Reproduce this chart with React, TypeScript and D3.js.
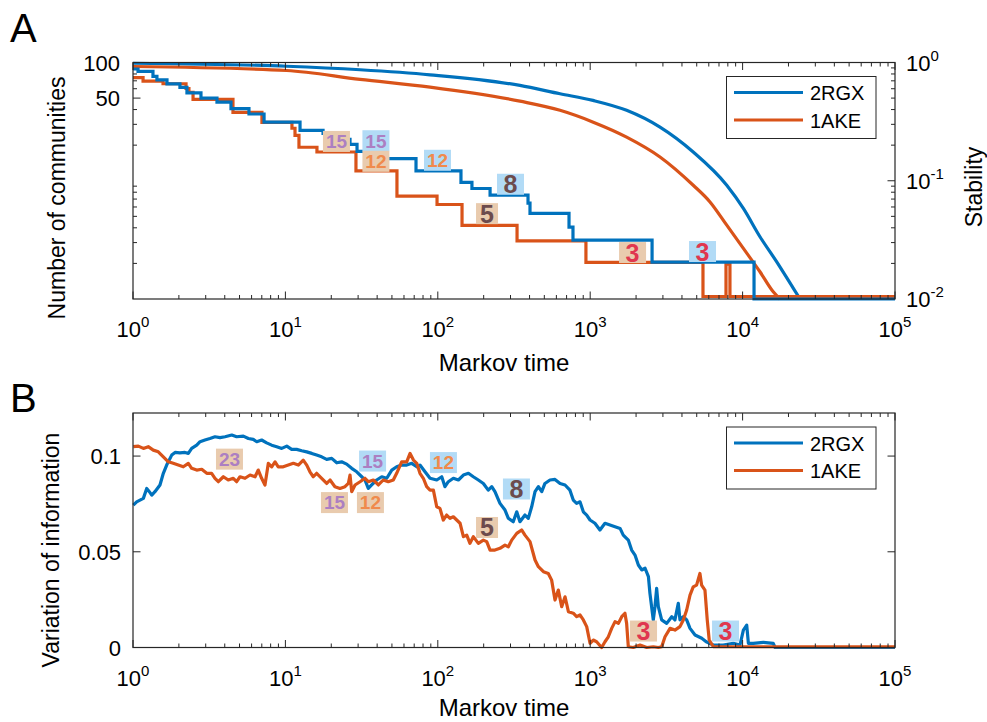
import React, { useEffect, useRef } from "react";
import * as d3 from "d3";

const W = 987, H = 722;
const BLUE = "#0072BD";
const ORANGE = "#D95319";
const AX = "#262626";
const FONT = "'Liberation Sans', Arial, Helvetica, sans-serif";
const LW = 3.2;

const seriesNames = ["2RGX", "1AKE"];
const xTickExps = [0, 1, 2, 3, 4, 5];
const stabTickExps = [0, -1, -2];
const commTickLabels = [100, 50];
const viTicks = [0, 0.05, 0.1];
const viTickLabels = ["0", "0.05", "0.1"];

// Number of communities (step), [log10 Markov time, count]
const comm2RGX = [
  [0, 88.1], [0.033, 84], [0.131, 76.2], [0.157, 71.2], [0.223, 65.9], [0.308, 61.5], [0.354, 55.3],
  [0.446, 50], [0.551, 46.3], [0.643, 40.7], [0.761, 36.7], [0.86, 31.3], [1.096, 26.7], [1.247, 25.2],
  [1.273, 22.4], [1.424, 20.3], [1.47, 17.7], [1.667, 15.4], [1.857, 12.1], [2.152, 9.7], [2.224, 8.6],
  [2.343, 7.55], [2.592, 6.46], [2.605, 5.29], [2.861, 4.05], [2.887, 3.15], [3.406, 2.05], [4.075, 1], [5, 1],
];
const comm1AKE = [
  [0, 74.6], [0.066, 69.5], [0.197, 66.1], [0.348, 60.3], [0.367, 55.8], [0.394, 48.7], [0.656, 37.9],
  [0.846, 31.2], [1.043, 27.8], [1.063, 24.2], [1.089, 19.2], [1.207, 17.5], [1.463, 12.1], [1.732, 7.4],
  [1.995, 6.3], [2.159, 4.2], [2.52, 3.1], [2.972, 2.04], [3.74, 1.05], [3.891, 1.97], [3.917, 1.05], [5, 1.05],
];

// Stability, [log10 Markov time, stability]
const stab2RGX = [
  [0, 0.986], [1.0085, 0.93], [1.49, 0.868], [1.949, 0.787], [2.539, 0.64], [2.802, 0.544], [3.018, 0.478],
  [3.239, 0.394], [3.458, 0.284], [3.676, 0.175], [3.896, 0.0916], [4.005, 0.0583], [4.114, 0.0336],
  [4.224, 0.0206], [4.333, 0.0123], [4.377, 0.0099],
];
const stab1AKE = [
  [0, 0.925], [1.0085, 0.856], [1.49, 0.72], [1.949, 0.619], [2.539, 0.471], [2.802, 0.394], [3.02, 0.313],
  [3.239, 0.234], [3.458, 0.159], [3.676, 0.0916], [3.786, 0.0662], [3.896, 0.0421], [4.005, 0.0268],
  [4.114, 0.017], [4.201, 0.0115], [4.245, 0.0099],
];

// Variation of information, [log10 Markov time, VI]
const vi2RGX = [
  [0.002,0.0744],[0.024,0.0761],[0.046,0.077],[0.068,0.0779],[0.09,0.0831],[0.107,0.0814],[0.123,0.0796],[0.144,0.0814],
  [0.177,0.0849],[0.199,0.091],[0.221,0.0953],[0.254,0.1005],[0.276,0.1019],[0.308,0.1017],[0.341,0.1019],[0.363,0.1014],
  [0.385,0.104],[0.418,0.1057],[0.44,0.1075],[0.472,0.1084],[0.505,0.1092],[0.538,0.1101],[0.571,0.1096],[0.604,0.1101],
  [0.648,0.111],[0.68,0.1101],[0.724,0.1104],[0.757,0.1092],[0.789,0.1087],[0.812,0.1075],[0.844,0.1084],[0.877,0.1069],
  [0.91,0.1057],[0.943,0.1049],[0.976,0.104],[1.009,0.1052],[1.041,0.1035],[1.074,0.1035],[1.107,0.1028],[1.14,0.1022],
  [1.173,0.1014],[1.205,0.1005],[1.238,0.0996],[1.271,0.0983],[1.304,0.0988],[1.337,0.0965],[1.369,0.097],[1.402,0.0958],
  [1.435,0.0936],[1.468,0.0918],[1.501,0.0892],[1.522,0.0875],[1.544,0.0831],[1.566,0.0849],[1.599,0.0875],[1.632,0.0892],
  [1.665,0.0884],[1.698,0.0927],[1.73,0.0944],[1.763,0.0953],[1.796,0.0953],[1.829,0.0962],[1.862,0.0944],[1.883,0.0953],
  [1.916,0.0918],[1.949,0.0884],[1.993,0.0875],[2.026,0.0892],[2.047,0.084],[2.069,0.0866],[2.102,0.0884],[2.135,0.0875],
  [2.168,0.0901],[2.201,0.091],[2.233,0.0892],[2.266,0.0875],[2.299,0.0857],[2.331,0.0822],[2.354,0.084],[2.375,0.0814],
  [2.408,0.0753],[2.441,0.0718],[2.463,0.0675],[2.495,0.0657],[2.518,0.0709],[2.539,0.0657],[2.572,0.0692],[2.594,0.0675],
  [2.616,0.0735],[2.638,0.0814],[2.66,0.084],[2.682,0.0814],[2.703,0.0857],[2.736,0.0875],[2.769,0.0878],[2.802,0.0857],
  [2.835,0.0849],[2.867,0.0822],[2.889,0.077],[2.911,0.0753],[2.933,0.0761],[2.955,0.0709],[2.977,0.0692],[2.999,0.0666],
  [3.031,0.0649],[3.064,0.0614],[3.097,0.0649],[3.13,0.064],[3.163,0.0631],[3.196,0.0622],[3.217,0.0587],[3.25,0.0561],
  [3.272,0.0509],[3.294,0.0483],[3.316,0.0431],[3.338,0.0405],[3.36,0.0414],[3.382,0.037],[3.392,0.0283],[3.403,0.0213],
  [3.414,0.0144],[3.425,0.0213],[3.436,0.0309],[3.447,0.0213],[3.469,0.0144],[3.502,0.0126],[3.535,0.0161],[3.556,0.0144],
  [3.578,0.0231],[3.589,0.0144],[3.611,0.0161],[3.633,0.0144],[3.655,0.01],[3.688,0.0065],[3.732,0.0048],[3.761,0.003],
  [3.808,0.0013],[3.873,0.0013],[3.939,0.0022],[3.983,0.0013],[4.005,0.0091],[4.027,0.0117],[4.038,0.0022],[4.07,0.0022],
  [4.136,0.0027],[4.201,0.0022],[4.213,0],[5,0],
];
const vi1AKE = [
  [0.002,0.1049],[0.035,0.1052],[0.068,0.104],[0.1,0.1049],[0.133,0.1031],[0.166,0.1022],[0.199,0.0996],[0.232,0.097],
  [0.264,0.0962],[0.297,0.0953],[0.33,0.0944],[0.363,0.0962],[0.385,0.0936],[0.418,0.0927],[0.451,0.0931],[0.484,0.091],
  [0.516,0.091],[0.538,0.0884],[0.56,0.0866],[0.593,0.0892],[0.625,0.0875],[0.658,0.0884],[0.68,0.0866],[0.702,0.0892],
  [0.735,0.0884],[0.768,0.0901],[0.801,0.0892],[0.822,0.0927],[0.844,0.0884],[0.866,0.0849],[0.888,0.0962],[0.91,0.0944],
  [0.932,0.097],[0.953,0.0944],[0.986,0.0944],[1.019,0.0953],[1.052,0.0962],[1.085,0.0953],[1.117,0.0979],[1.14,0.0953],
  [1.161,0.0918],[1.183,0.0892],[1.205,0.091],[1.238,0.0884],[1.271,0.0857],[1.293,0.0875],[1.325,0.084],[1.358,0.0831],
  [1.391,0.084],[1.413,0.0857],[1.424,0.0901],[1.435,0.0814],[1.457,0.0849],[1.49,0.0866],[1.522,0.0884],[1.544,0.0866],
  [1.577,0.0875],[1.61,0.0849],[1.642,0.0875],[1.675,0.0866],[1.708,0.0875],[1.73,0.091],[1.763,0.097],[1.796,0.097],
  [1.818,0.1014],[1.84,0.0979],[1.862,0.0962],[1.883,0.091],[1.905,0.0884],[1.927,0.084],[1.949,0.0822],[1.971,0.0822],
  [1.993,0.0735],[2.014,0.0727],[2.036,0.0666],[2.058,0.0692],[2.08,0.0675],[2.102,0.0683],[2.124,0.0666],[2.146,0.0649],
  [2.168,0.0579],[2.19,0.0587],[2.211,0.0544],[2.233,0.0579],[2.266,0.0544],[2.299,0.0561],[2.321,0.0553],[2.343,0.0509],
  [2.375,0.0509],[2.408,0.0518],[2.441,0.0535],[2.463,0.0526],[2.485,0.0561],[2.518,0.0596],[2.55,0.0614],[2.572,0.0587],
  [2.605,0.0553],[2.638,0.0457],[2.66,0.0422],[2.693,0.0396],[2.725,0.0387],[2.747,0.0352],[2.769,0.0248],[2.791,0.03],
  [2.813,0.0213],[2.835,0.0265],[2.857,0.0187],[2.889,0.0179],[2.911,0.0161],[2.933,0.017],[2.955,0.0144],[2.977,0.0109],
  [2.999,0.0022],[3.02,0.0039],[3.042,0.003],[3.075,0],[3.097,0.003],[3.119,0.0056],[3.141,0.01],[3.163,0.0135],
  [3.185,0.0126],[3.207,0.0161],[3.228,0.0179],[3.239,0.0126],[3.25,0.0004],[3.283,0],[3.327,0.0013],[3.371,0],
  [3.414,0.0004],[3.447,0],[3.469,0.0004],[3.491,0.0056],[3.524,0.01],[3.556,0.0091],[3.589,0.0109],[3.611,0.0144],
  [3.633,0.0196],[3.655,0.0274],[3.676,0.0317],[3.698,0.0326],[3.72,0.0387],[3.731,0.0326],[3.753,0.03],[3.768,0.0144],
  [3.781,0.0039],[3.808,0.0004],[5,0.0004],
];

// Annotation labels: [log10 time, value, text, box ("tan"|"blue"), text kind]
const labelsA: [number, number, string, string, string][] = [
  [1.335, 21.5, "15", "tan", "purple"], [1.594, 21.8, "15", "blue", "purple"],
  [1.594, 14.6, "12", "tan", "orange"], [1.998, 14.9, "12", "blue", "orange"],
  [2.477, 9.34, "8", "blue", "brown"], [2.323, 5.27, "5", "tan", "brown"],
  [3.278, 2.47, "3", "tan", "red"], [3.737, 2.52, "3", "blue", "red"],
];
const labelsB: [number, number, string, string, string][] = [
  [0.633, 0.0984, "23", "tan", "purple"], [1.572, 0.0974, "15", "blue", "purple"],
  [1.322, 0.0757, "15", "tan", "purple"], [1.558, 0.0757, "12", "tan", "orange"],
  [2.037, 0.0966, "12", "blue", "orange"], [2.516, 0.0828, "8", "blue", "brown"],
  [2.323, 0.0627, "5", "tan", "brown"], [3.35, 0.0086, "3", "tan", "red"], [3.888, 0.0086, "3", "blue", "red"],
];

const BOX_FILL: Record<string, string> = { tan: "#e9cbae", blue: "#b2dbf6" };
const TXT_FILL: Record<string, string> = { purple: "#ac7fc2", orange: "#f08a4c", brown: "#6c4b4d", red: "#e0374f" };

export default function App() {
  const ref = useRef<SVGSVGElement>(null);
  useEffect(() => {
    const svg = d3.select(ref.current!);
    svg.selectAll("*").remove();
    svg.append("rect").attr("width", W).attr("height", H).attr("fill", "#fff");

    const L = 133, R = 895;
    const T1 = 62.5, B1 = 299;
    const T2 = 413, B2 = 647.5;

    const x = d3.scaleLog().domain([1, 1e5]).range([L, R]);
    const xt = (lt: number) => x(Math.pow(10, lt));
    const yC = d3.scaleLog().domain([1, 100]).range([B1, T1]).clamp(true);
    const yS = d3.scaleLog().domain([0.01, 1]).range([B1, T1]).clamp(true);
    const yV = d3.scaleLinear().domain([0, 0.1225]).range([B2, T2]);

    const txt = (g: any, xx: number, yy: number, s: string, size: number, anchor = "middle") =>
      g.append("text").attr("x", xx).attr("y", yy).attr("font-size", size).attr("text-anchor", anchor)
        .attr("fill", "#000").attr("font-family", FONT).text(s);
    const pow10 = (g: any, xx: number, yy: number, e: number, anchor: string) => {
      const t = g.append("text").attr("x", xx).attr("y", yy).attr("text-anchor", anchor)
        .attr("font-family", FONT).attr("font-size", 22).attr("fill", "#000");
      t.append("tspan").text("10");
      t.append("tspan").attr("dy", -10).attr("font-size", 15).text(String(e));
    };

    const minorLog = (lo: number, hi: number) => {
      const out: number[] = [];
      for (let e = lo; e < hi; e++) for (let k = 2; k <= 9; k++) out.push(k * Math.pow(10, e));
      return out;
    };

    const frameX = (g: any, top: number, bottom: number) => {
      const majors = xTickExps.map((e) => Math.pow(10, e));
      const minors = minorLog(0, 5);
      [[majors, 7.5], [minors, 4]].forEach(([vals, len]: any) => {
        vals.forEach((v: number) => {
          g.append("line").attr("x1", x(v)).attr("x2", x(v)).attr("y1", bottom).attr("y2", bottom - len).attr("stroke", AX);
          g.append("line").attr("x1", x(v)).attr("x2", x(v)).attr("y1", top).attr("y2", top + len).attr("stroke", AX);
        });
      });
      g.append("rect").attr("x", L).attr("y", top).attr("width", R - L).attr("height", bottom - top)
        .attr("fill", "none").attr("stroke", AX).attr("stroke-width", 1.2);
    };

    const drawLabels = (g: any, list: any[], yScale: any) => {
      list.forEach(([lt, v, s, box, kind]) => {
        const cx = xt(lt), cy = yScale(v);
        const big = s.length === 1;
        const w = s === "5" ? 22 : 27, h = 21;
        g.append("rect").attr("x", cx - w / 2).attr("y", cy - h / 2).attr("width", w).attr("height", h)
          .attr("fill", BOX_FILL[box]);
        g.append("text").attr("x", cx).attr("y", cy).attr("dy", "0.36em").attr("text-anchor", "middle")
          .attr("font-family", FONT).attr("font-weight", "bold").attr("font-size", big ? 25 : 19)
          .attr("fill", TXT_FILL[kind]).text(s);
      });
    };

    const legend = (g: any, top: number) => {
      const lx = 726.5, lw = 149.5, lh = 62;
      g.append("rect").attr("x", lx).attr("y", top).attr("width", lw).attr("height", lh)
        .attr("fill", "#fff").attr("stroke", AX).attr("stroke-width", 1);
      [BLUE, ORANGE].forEach((c, i) => {
        const yy = top + 16 + i * 27.5;
        g.append("line").attr("x1", 734).attr("x2", 803).attr("y1", yy).attr("y2", yy)
          .attr("stroke", c).attr("stroke-width", LW);
        txt(g, 810, yy + 7.5, seriesNames[i], 20, "start");
      });
    };

    // ---------- Panel A ----------
    const gA = svg.append("g");
    const stepLine = d3.line<number[]>().x((d) => xt(d[0])).y((d) => yC(d[1])).curve(d3.curveStepAfter);
    const stabLine = d3.line<number[]>().x((d) => xt(d[0])).y((d) => yS(d[1])).curve(d3.curveMonotoneX);

    [2, 3, 4, 5, 6, 7, 8, 9, 20, 30, 40, 60, 70, 80, 90].forEach((v) => {
      gA.append("line").attr("x1", L).attr("x2", L + 4).attr("y1", yC(v)).attr("y2", yC(v)).attr("stroke", AX);
    });
    commTickLabels.forEach((v) => {
      gA.append("line").attr("x1", L).attr("x2", L + 7.5).attr("y1", yC(v)).attr("y2", yC(v)).attr("stroke", AX);
      txt(gA, 120, yC(v) + 8, String(v), 22, "end");
    });
    minorLog(-2, 0).forEach((v) => {
      gA.append("line").attr("x1", R).attr("x2", R - 4).attr("y1", yS(v)).attr("y2", yS(v)).attr("stroke", AX);
    });
    stabTickExps.forEach((e) => {
      const yy = yS(Math.pow(10, e));
      gA.append("line").attr("x1", R).attr("x2", R - 7.5).attr("y1", yy).attr("y2", yy).attr("stroke", AX);
      pow10(gA, 906, yy + 8, e, "start");
    });

    gA.append("path").datum(stab2RGX).attr("d", stabLine).attr("fill", "none").attr("stroke", BLUE).attr("stroke-width", LW);
    gA.append("path").datum(stab1AKE).attr("d", stabLine).attr("fill", "none").attr("stroke", ORANGE).attr("stroke-width", LW);
    gA.append("path").datum(comm1AKE).attr("d", stepLine).attr("fill", "none").attr("stroke", ORANGE).attr("stroke-width", LW);
    gA.append("path").datum(comm2RGX).attr("d", stepLine).attr("fill", "none").attr("stroke", BLUE).attr("stroke-width", LW);

    frameX(gA, T1, B1);
    drawLabels(gA, labelsA, yC);
    legend(gA, 76.5);

    xTickExps.forEach((e) => pow10(gA, x(Math.pow(10, e)), 337, e, "middle"));
    txt(gA, 504, 371, "Markov time", 24);
    gA.append("text").attr("transform", `translate(65,198) rotate(-90)`).attr("text-anchor", "middle")
      .attr("font-family", FONT).attr("font-size", 23).text("Number of communities");
    gA.append("text").attr("transform", `translate(982,187) rotate(-90)`).attr("text-anchor", "middle")
      .attr("font-family", FONT).attr("font-size", 23).text("Stability");
    txt(gA, 10, 42, "A", 40, "start");

    // ---------- Panel B ----------
    const gB = svg.append("g");
    const viLine = d3.line<number[]>().x((d) => xt(d[0])).y((d) => yV(d[1]));
    viTicks.forEach((v, i) => {
      gB.append("line").attr("x1", L).attr("x2", L + 7.5).attr("y1", yV(v)).attr("y2", yV(v)).attr("stroke", AX);
      gB.append("line").attr("x1", R).attr("x2", R - 7.5).attr("y1", yV(v)).attr("y2", yV(v)).attr("stroke", AX);
      txt(gB, 121, yV(v) + 8, viTickLabels[i], 22, "end");
    });
    gB.append("path").datum(vi2RGX).attr("d", viLine).attr("fill", "none").attr("stroke", BLUE)
      .attr("stroke-width", LW).attr("stroke-linejoin", "round");
    gB.append("path").datum(vi1AKE).attr("d", viLine).attr("fill", "none").attr("stroke", ORANGE)
      .attr("stroke-width", LW).attr("stroke-linejoin", "round");
    frameX(gB, T2, B2);
    drawLabels(gB, labelsB, yV);
    legend(gB, 427);

    xTickExps.forEach((e) => pow10(gB, x(Math.pow(10, e)), 686, e, "middle"));
    txt(gB, 504, 716, "Markov time", 24);
    gB.append("text").attr("transform", `translate(59,550) rotate(-90)`).attr("text-anchor", "middle")
      .attr("font-family", FONT).attr("font-size", 23).text("Variation of information");
    txt(gB, 10, 412, "B", 40, "start");
  }, []);

  return (
    <svg ref={ref} width={W} height={H}
      style={{ position: "absolute", left: 0, top: 0, display: "block", fontFamily: FONT }} />
  );
}
